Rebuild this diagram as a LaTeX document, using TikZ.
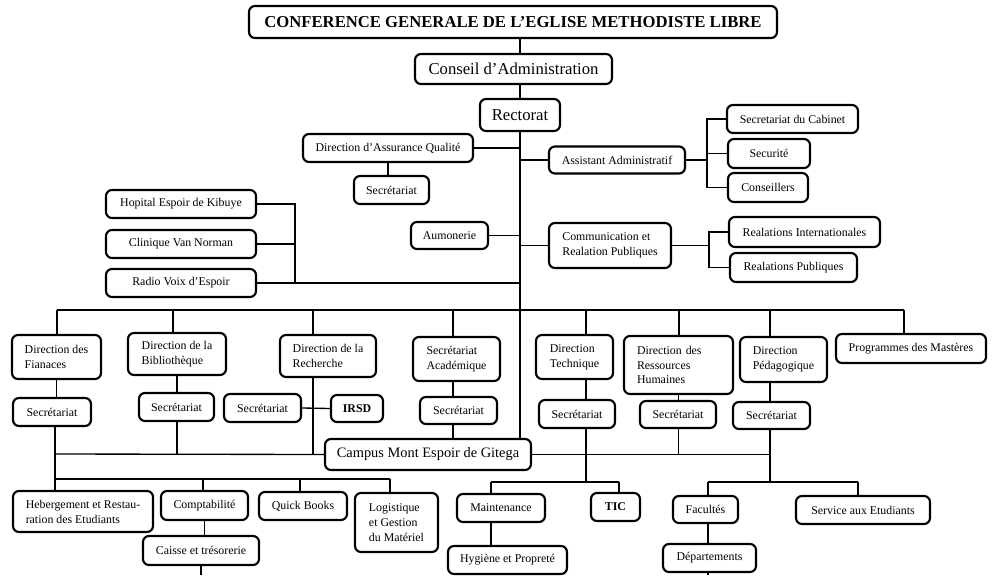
\documentclass[tikz,border=0pt]{standalone}
\usepackage{fontspec}
\setmainfont{Liberation Serif}

\begin{document}
\begin{tikzpicture}[x=0.75pt, y=-0.75pt,
  box/.style={draw, line width=1.6pt, rounded corners=4.5pt, inner sep=1pt,
    font=\fontsize{8.9}{11.2}\selectfont},
  bigbox/.style={box, font=\fontsize{12.5}{14}\selectfont},
  sz/.style 2 args={minimum width=#1*0.75pt, minimum height=#2*0.75pt},
  link/.style={line width=1pt}]
  \useasboundingbox (0,0) rectangle (995,575);

  % Top levels
  \node[bigbox, font=\bfseries\fontsize{12.5}{14}\selectfont, sz={528}{32}] (title) at (513,22)
    {CONFERENCE GENERALE DE L’EGLISE METHODISTE LIBRE};
  \node[bigbox, sz={197}{30}] (conseil) at (513.5,69) {Conseil d’Administration};
  \node[bigbox, sz={80}{32}] (rectorat) at (520,115) {Rectorat};

  % Left of the trunk
  \node[box, sz={170}{28}] (daq) at (388,148) {Direction d’Assurance Qualité};
  \node[box, sz={75}{28}] (daqsec) at (391.5,190) {Secrétariat};
  \node[box, sz={150}{28}] (hopital) at (181,204) {Hopital Espoir de Kibuye};
  \node[box, sz={150}{28}] (clinique) at (181,244) {Clinique Van Norman};
  \node[box, sz={150}{28}] (radio) at (181,283) {Radio Voix d’Espoir};
  \node[box, sz={77}{27}] (aumonerie) at (449.5,235.5) {Aumonerie};

  % Right of the trunk
  \node[box, sz={136}{27}] (assist) at (617,160) {Assistant Administratif};
  \node[box, sz={131}{28}] (cabinet) at (792.5,119) {Secretariat du Cabinet};
  \node[box, sz={82}{29}] (securite) at (769,153.5) {Securité};
  \node[box, sz={80}{29}] (conseillers) at (768,187.5) {Conseillers};
  \node[box, align=left, sz={122}{45}] (comm) at (610,245.5) {Communication et\\Realation Publiques};
  \node[box, sz={151}{30}] (relint) at (804.5,232) {Realations Internationales};
  \node[box, sz={127}{29}] (relpub) at (793.5,267.5) {Realations Publiques};

  % Directions
  \node[box, align=left, sz={89}{44}] (fin) at (56.5,357) {Direction des\\Fianaces};
  \node[box, align=left, sz={98}{42}] (bib) at (177,354) {Direction de la\\Bibliothèque};
  \node[box, align=left, sz={96}{42}] (rech) at (328,356) {Direction de la\\Recherche};
  \node[box, align=left, sz={87}{44}] (acad) at (456.5,359) {Secrétariat\\Académique};
  \node[box, align=left, sz={77}{44}] (tech) at (574.5,357) {Direction\\Technique};
  \node[box, align=left, text width=62.25pt, inner xsep=9.75pt, sz={109}{58}] (drh) at (678.5,365)
    {Direction des\\Ressources\\Humaines};
  \node[box, align=left, sz={87}{45}] (ped) at (783.5,359.5) {Direction\\Pédagogique};
  \node[box, sz={150}{29}] (master) at (911,348.5) {Programmes des Mastères};

  % Secretariats
  \node[box, sz={78}{28}] (finsec) at (52,412) {Secrétariat};
  \node[box, sz={75}{28}] (bibsec) at (176.5,407) {Secrétariat};
  \node[box, sz={77}{28}] (rechsec) at (262.5,408) {Secrétariat};
  \node[box, font=\bfseries\fontsize{8.9}{11.2}\selectfont, sz={52}{27}] (irsd) at (357,408.5) {IRSD};
  \node[box, sz={77}{27}] (acadsec) at (458.5,410.5) {Secrétariat};
  \node[box, sz={76}{28}] (techsec) at (577,414) {Secrétariat};
  \node[box, sz={76}{27}] (drhsec) at (678,414.5) {Secrétariat};
  \node[box, sz={77}{27}] (pedsec) at (771.5,415.5) {Secrétariat};
  \node[box, font=\fontsize{10.8}{13}\selectfont, sz={206}{31}] (campus) at (428,454.5) {Campus Mont Espoir de Gitega};

  % Services
  \node[box, align=left, sz={140}{41}] (heberg) at (83,511.5) {Hebergement et Restau-\\ration des Etudiants};
  \node[box, sz={87}{29}] (compta) at (204.5,505.5) {Comptabilité};
  \node[box, sz={88}{28}] (quick) at (303,506) {Quick Books};
  \node[box, align=left, sz={83}{59}] (logist) at (396.5,522.5) {Logistique\\et Gestion\\du Matériel};
  \node[box, sz={116}{29}] (caisse) at (201,550.5) {Caisse et trésorerie};
  \node[box, sz={88}{28}] (maint) at (501,508) {Maintenance};
  \node[box, font=\bfseries\fontsize{8.9}{11.2}\selectfont, sz={49}{28}] (tic) at (615.5,507) {TIC};
  \node[box, sz={119}{28}] (hyg) at (507.5,560) {Hygiène et Propreté};
  \node[box, sz={65}{27}] (fac) at (705.5,509.5) {Facultés};
  \node[box, sz={134}{28}] (service) at (863,510) {Service aux Etudiants};
  \node[box, sz={93}{28}] (dept) at (709.5,558) {Départements};

  % Trunk
  \draw[link] (title.south -| rectorat) -- (conseil.north -| rectorat);
  \draw[link] (conseil.south -| rectorat) -- (rectorat.north);
  \draw[link] (rectorat.south) -- (campus.north -| rectorat);

  % Left branches
  \draw[link] (daq.east) -- (daq.east -| rectorat);
  \draw[link] (daq.south) -- (daq.south |- daqsec.north);
  \coordinate (hb) at (295,204);
  \draw[link] (hopital.east) -- (hopital.east -| hb) -- (radio.east -| hb);
  \draw[link] (clinique.east) -- (clinique.east -| hb);
  \draw[link] (radio.east) -- (radio.east -| rectorat);
  \draw[link] (aumonerie.east) -- (aumonerie.east -| rectorat);

  % Right branches
  \draw[link] (rectorat |- assist.west) -- (assist.west);
  \coordinate (ab) at (707,122);
  \draw[link] (assist.east) -- (assist.east -| ab);
  \draw[link] (cabinet.west) -- (cabinet.west -| ab) -- (conseillers.west -| ab) -- (conseillers.west);
  \draw[link] (securite.west) -- (securite.west -| ab);
  \coordinate (cb) at (709,232);
  \draw[link] (rectorat |- comm.west) -- (comm.west);
  \draw[link] (comm.east) -- (comm.east -| cb);
  \draw[link] (relint.west) -- (relint.west -| cb) -- (relpub.west -| cb) -- (relpub.west);

  % Directions bus
  \foreach \n/\x in {fin/57, bib/173, rech/313, acad/453, tech/586, drh/679, ped/770, master/904}
    \coordinate (b\n) at (\x,310);
  \draw[link] (bfin) -- (bmaster);
  \foreach \n in {fin, bib, rech, acad, tech, drh, ped, master}
    \draw[link] (b\n) -- (b\n |- \n.north);

  % Directions to secretariats
  \draw[link] (fin.south) -- (fin.south |- finsec.north);
  \draw[link] (bib.south) -- (bib.south |- bibsec.north);
  \draw[link] (bacad |- acad.south) -- (bacad |- acadsec.north);
  \draw[link] (btech |- tech.south) -- (btech |- techsec.north);
  \draw[link] (drh.south) -- (drh.south |- drhsec.north);
  \draw[link] (bped |- ped.south) -- (bped |- pedsec.north);
  \draw[link] (rechsec.east) -- (irsd.west);

  % Campus line
  \coordinate (cl) at (55,454);
  \draw[link] (cl) -- (campus.west);
  \draw[link] (campus.east) -- (bped |- campus.east);
  \draw[link] (bib.south |- bibsec.south) -- (bib.south |- campus.west);
  \draw[link] (brech |- rech.south) -- (brech |- campus.west);
  \draw[link] (bacad |- acadsec.south) -- (bacad |- campus.north);
  \draw[link] (drh.south |- drhsec.south) -- (drh.south |- campus.east);

  % Lower left bus
  \foreach \n/\x in {heberg/55, compta/203, quick/300, logist/390}
    \coordinate (l\n) at (\x,479);
  \draw[link] (cl |- finsec.south) -- (lheberg);
  \draw[link] (lheberg) -- (llogist);
  \foreach \n in {heberg, compta, quick, logist}
    \draw[link] (l\n) -- (l\n |- \n.north);
  \draw[link] (compta.south) -- (compta.south |- caisse.north);
  \coordinate (cend) at (201,575);
  \draw[link] (caisse.south) -- (caisse.south |- cend);

  % Technique bus
  \coordinate (tmaint) at (491,482);
  \coordinate (ttic) at (619,482);
  \draw[link] (btech |- techsec.south) -- (btech |- tmaint);
  \draw[link] (tmaint) -- (ttic);
  \draw[link] (tmaint) -- (tmaint |- maint.north);
  \draw[link] (ttic) -- (ttic |- tic.north);
  \draw[link] (tmaint |- maint.south) -- (tmaint |- hyg.north);

  % Pedagogique bus
  \coordinate (pfac) at (708,482);
  \coordinate (pserv) at (858,482);
  \draw[link] (bped |- pedsec.south) -- (bped |- pfac);
  \draw[link] (pfac) -- (pserv);
  \draw[link] (pfac) -- (pfac |- fac.north);
  \draw[link] (pserv) -- (pserv |- service.north);
  \draw[link] (pfac |- fac.south) -- (pfac |- dept.north);
  \draw[link] (pfac |- dept.south) -- (pfac |- cend);
\end{tikzpicture}
\end{document}
